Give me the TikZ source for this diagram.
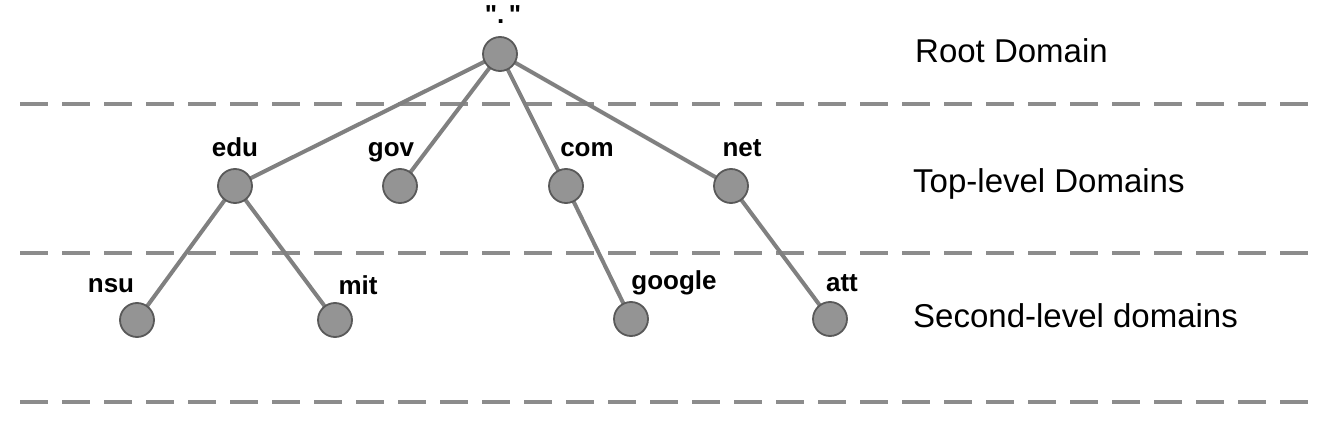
\documentclass[tikz,border=0pt]{standalone}
\usepackage{fontspec}
\setmainfont{Liberation Sans}
\newfontfamily\qfont{Liberation Sans}
\usetikzlibrary{backgrounds}
\begin{document}
\begin{tikzpicture}[x=1pt,y=-1pt,
  dom/.style={circle,draw=black!65,fill=black!42,line width=1.8pt,minimum size=34pt,inner sep=0pt},
  edge/.style={draw=black!50,line width=4pt},
  sep/.style={draw=black!45,line width=4pt,dash pattern=on 28pt off 14pt},
  lbl/.style={anchor=base,inner sep=0pt,font=\fontsize{26}{30}\selectfont\bfseries},
  lvl/.style={anchor=base west,inner sep=0pt,font=\fontsize{33}{38}\selectfont}]
\useasboundingbox (0,0) rectangle (1333,422);
% nodes
\node[dom] (root) at (500,54) {};
\node[dom] (edu) at (235,186) {};
\node[dom] (gov) at (400,186) {};
\node[dom] (com) at (566,186) {};
\node[dom] (net) at (731,186) {};
\node[dom] (nsu) at (137,320) {};
\node[dom] (mit) at (335,320) {};
\node[dom] (google) at (631,319) {};
\node[dom] (att) at (830,319) {};
\begin{scope}[on background layer]
% separators
\coordinate (s1a) at (20,104); \coordinate (s1b) at (1310,104);
\coordinate (s2a) at (20,253); \coordinate (s2b) at (1310,253);
\coordinate (s3a) at (20,402); \coordinate (s3b) at (1310,402);
\draw[sep] (s1a) -- (s1b);
\draw[sep] (s2a) -- (s2b);
\draw[sep] (s3a) -- (s3b);
% edges
\path[edge] (root.center) -- (edu.center) (root.center) -- (gov.center)
  (root.center) -- (com.center) (root.center) -- (net.center)
  (edu.center) -- (nsu.center) (edu.center) -- (mit.center)
  (com.center) -- (google.center) (net.center) -- (att.center);
\end{scope}
% labels
\node[lbl] (lroot) at (503,24) {\qfont\bfseries ".\,"};
\node[lbl] (ledu) at (235,157) {edu};
\node[lbl] (lgov) at (391,157) {gov};
\node[lbl] (lcom) at (587,157) {com};
\node[lbl] (lnet) at (742,157) {net};
\node[lbl] (lnsu) at (111,292) {nsu};
\node[lbl] (lmit) at (358,294) {mit};
\node[lbl] (lgoogle) at (674,289) {google};
\node[lbl] (latt) at (842,291) {att};
% level labels
\node[lvl] (l1) at (915,63) {Root Domain};
\node[lvl] (l2) at (913,193) {Top-level Domains};
\node[lvl] (l3) at (913,327) {Second-level domains};
\end{tikzpicture}
\end{document}
